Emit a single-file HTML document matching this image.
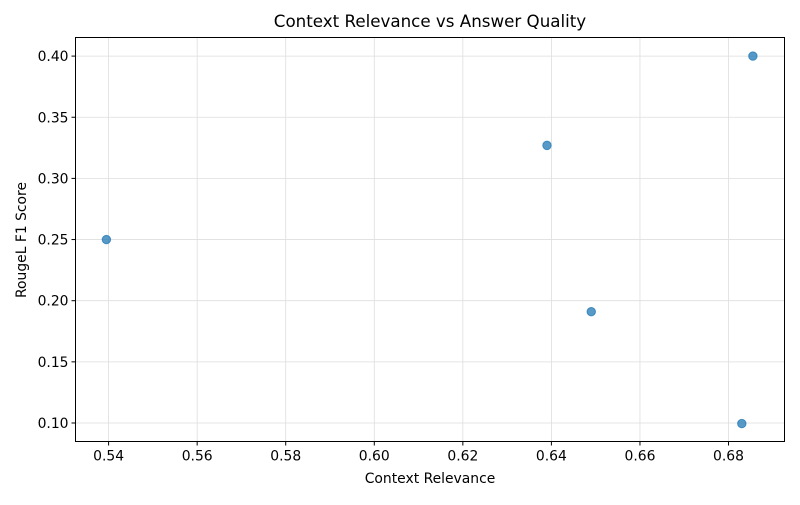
<!DOCTYPE html>
<html><head><meta charset="utf-8"><style>
body{margin:0;background:#fff;font-family:"Liberation Sans","DejaVu Sans",sans-serif}
</style></head><body>
<svg id="chart" width="800" height="500" font-family="DejaVu Sans, Liberation Sans, sans-serif">
<text x="430" y="27" text-anchor="middle" font-size="16.7">Context Relevance vs Answer Quality</text>
<text x="430" y="483" text-anchor="middle" font-size="13.9">Context Relevance</text>
<text transform="translate(26,240) rotate(-90)" text-anchor="middle" font-size="13.9">RougeL F1 Score</text>
<g id="grid"></g><g id="ticks"></g><g id="pts"></g>
<rect x="75.5" y="37.5" width="709" height="404" fill="none" stroke="#000" stroke-width="1"/>
</svg>
<script>
const xValues=[0.5395,0.639,0.649,0.683,0.6855];
const yValues=[0.25,0.327,0.191,0.0995,0.40];
const xTicks=[0.54,0.56,0.58,0.60,0.62,0.64,0.66,0.68];
const yTicks=[0.10,0.15,0.20,0.25,0.30,0.35,0.40];
const NS="http://www.w3.org/2000/svg";
const L=75.5,R=784.5,T=37.5,B=441.5;
function sx(v){return 108.6+(v-0.54)*4428;}
function sy(v){return 423-(v-0.10)*1223;}
function mk(t,a,p){const e=document.createElementNS(NS,t);for(const k in a)e.setAttribute(k,a[k]);p.appendChild(e);return e;}
const g=document.getElementById('grid'),tk=document.getElementById('ticks'),pts=document.getElementById('pts');
xTicks.forEach(v=>{const x=sx(v);
const gl=mk('line',{x1:x,x2:x,y1:T,y2:B,stroke:'#dedede','stroke-width':0.8},g);


mk('line',{x1:x,x2:x,y1:B,y2:B+4,stroke:'#000'},tk);
const t=mk('text',{x:x,y:B+19,'text-anchor':'middle','font-size':13.9},tk);t.textContent=v.toFixed(2);

});
yTicks.forEach(v=>{const y=sy(v);
const gl=mk('line',{x1:L,x2:R,y1:y,y2:y,stroke:'#dedede','stroke-width':0.8},g);


mk('line',{x1:L-4,x2:L,y1:y,y2:y,stroke:'#000'},tk);
const t=mk('text',{x:L-7,y:y+5,'text-anchor':'end','font-size':13.9},tk);t.textContent=v.toFixed(2);

});
xValues.forEach((v,i)=>{const c=mk('circle',{cx:sx(v),cy:sy(yValues[i]),r:4.2,fill:'#1f77b4','fill-opacity':0.75,stroke:'#1f77b4','stroke-opacity':0.75},pts);

});
</script>
</body></html>
